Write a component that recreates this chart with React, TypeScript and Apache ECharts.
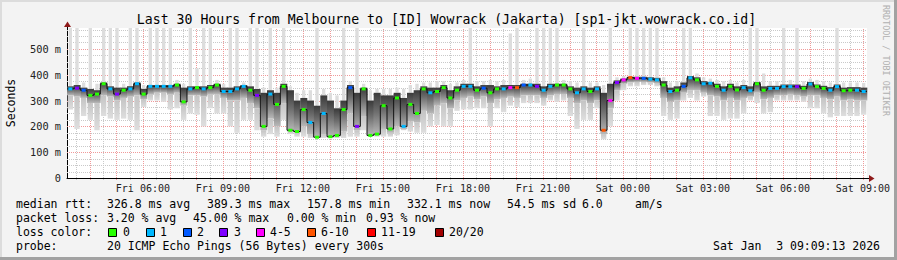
import React, { useEffect, useRef } from "react";
import * as echarts from "echarts";

const MONO = '"DejaVu Sans Mono", monospace';

// x axis: hours counted from Fri 00:00; window = last 30 hours ending Sat 09:09:13
const startHour = 3.1536;
const spanHours = 30;
const stepHours = 0.25; // one sample every 15 minutes

// median RTT (ms) per 15-minute step
const medianRtt = [
  345, 348, 340, 320, 325, 365, 345, 325, 340, 345, 365, 325, 355, 355, 355, 355, 360, 295, 345, 350, 345, 350, 360, 335,
  335, 345, 355, 340, 320, 200, 325, 285, 355, 185, 180, 265, 215, 158, 250, 160, 165, 265, 350, 200, 345, 165, 170, 280,
  190, 310, 200, 285, 250, 345, 330, 335, 350, 310, 340, 355, 355, 340, 348, 330, 345, 345, 350, 350, 360, 360, 355, 340,
  355, 360, 360, 345, 330, 345, 335, 345, 185, 300, 370, 380, 389, 386, 386, 383, 380, 360, 335, 340, 355, 388, 380, 365,
  367, 355, 340, 355, 341, 350, 338, 365, 340, 347, 347, 354, 354, 354, 347, 364, 354, 347, 340, 354, 338, 340, 340, 335,
];
// loss bucket index per step (0 = 0 lost, 1 = 1, 2 = 2, 3 = 3, 4 = 4-5, 5 = 6-10, 6 = 11-19, 7 = 20/20)
const lossBucket = [
  1, 3, 2, 0, 0, 0, 1, 3, 0, 1, 1, 0, 1, 1, 1, 1, 0, 0, 1, 0, 1, 0, 0, 1,
  1, 1, 1, 0, 3, 0, 1, 0, 0, 0, 0, 0, 1, 0, 1, 0, 0, 0, 2, 3, 0, 0, 0, 0,
  0, 0, 1, 0, 0, 0, 1, 0, 0, 0, 0, 1, 1, 0, 2, 0, 0, 1, 4, 5, 2, 1, 3, 1,
  1, 0, 0, 0, 1, 1, 0, 1, 5, 4, 3, 4, 5, 4, 2, 1, 1, 0, 1, 0, 2, 1, 0, 1,
  1, 0, 1, 0, 0, 1, 1, 0, 0, 1, 1, 1, 1, 3, 0, 1, 0, 0, 1, 1, 0, 0, 1, 1,
];
// smoke: lowest ping, dark core bottom, dark core top, highest ping (581 = beyond the top)
const smokeLow = [
  265, 190, 240, 225, 185, 240, 230, 225, 230, 225, 185, 275, 300, 300, 295, 265, 270, 225, 250, 245, 200, 270, 250, 250,
  200, 175, 225, 225, 185, 160, 170, 160, 225, 170, 160, 160, 155, 155, 155, 155, 155, 155, 160, 160, 185, 160, 160, 160,
  160, 165, 185, 180, 175, 175, 200, 205, 200, 200, 260, 265, 265, 270, 270, 200, 270, 255, 280, 275, 290, 290, 290, 280,
  300, 295, 300, 240, 190, 225, 225, 270, 150, 200, 300, 340, 355, 355, 360, 360, 355, 240, 225, 230, 300, 310, 300, 315,
  240, 240, 225, 230, 230, 250, 300, 290, 250, 255, 300, 300, 300, 300, 295, 270, 270, 250, 235, 240, 240, 240, 240, 245,
];
const coreLow = [
  320, 315, 310, 290, 290, 320, 315, 300, 310, 315, 320, 305, 325, 330, 330, 325, 330, 280, 320, 320, 315, 325, 325, 310,
  300, 300, 310, 290, 270, 185, 230, 200, 290, 180, 175, 200, 170, 158, 170, 158, 160, 180, 250, 185, 240, 163, 165, 190,
  175, 200, 190, 220, 215, 260, 250, 280, 290, 270, 300, 310, 315, 305, 315, 290, 305, 310, 315, 310, 320, 320, 320, 310,
  320, 325, 325, 310, 290, 300, 290, 300, 170, 270, 340, 365, 370, 372, 372, 370, 368, 310, 295, 300, 330, 340, 340, 330,
  320, 315, 300, 310, 300, 310, 315, 330, 305, 310, 320, 320, 325, 320, 315, 320, 320, 310, 305, 315, 300, 305, 300, 300,
];
const coreHigh = [
  355, 360, 350, 345, 340, 370, 355, 350, 350, 355, 370, 345, 360, 360, 360, 360, 365, 350, 355, 355, 355, 360, 365, 350,
  350, 355, 360, 355, 345, 330, 340, 330, 365, 340, 300, 310, 300, 280, 320, 300, 270, 300, 360, 330, 350, 300, 330, 320,
  320, 330, 310, 330, 340, 355, 350, 350, 360, 340, 355, 365, 365, 355, 360, 360, 355, 360, 360, 360, 365, 365, 365, 355,
  365, 365, 365, 355, 350, 355, 350, 355, 330, 365, 378, 385, 392, 392, 392, 390, 388, 375, 350, 355, 370, 395, 390, 375,
  372, 365, 355, 365, 355, 360, 355, 372, 355, 357, 357, 362, 362, 362, 357, 372, 362, 357, 352, 362, 350, 352, 352, 350,
];
const smokeHigh = [
  581, 581, 370, 581, 365, 581, 581, 581, 365, 581, 581, 360, 581, 581, 581, 581, 380, 365, 581, 425, 581, 581, 380, 365,
  581, 581, 370, 581, 581, 350, 581, 350, 581, 355, 330, 340, 340, 581, 345, 330, 320, 581, 375, 581, 365, 340, 345, 345,
  345, 350, 345, 360, 365, 370, 370, 375, 375, 365, 370, 380, 581, 375, 375, 380, 375, 380, 560, 581, 380, 385, 581, 581,
  581, 581, 380, 375, 370, 581, 370, 370, 360, 581, 390, 395, 581, 581, 581, 581, 581, 390, 370, 375, 581, 581, 405, 390,
  385, 380, 375, 380, 370, 380, 581, 581, 405, 375, 375, 581, 380, 581, 375, 385, 380, 375, 370, 581, 370, 370, 370, 368,
];

const lossColors = ["#26ff00", "#00b8ff", "#0059ff", "#7e00ff", "#ff00ff", "#ff5500", "#ff0000", "#a10000"];
const lossLabels = ["0", "1", "2", "3", "4-5", "6-10", "11-19", "20/20"];

const xTickHours = [6, 9, 12, 15, 18, 21, 24, 27, 30, 33];
const xTickLabels = ["Fri 06:00", "Fri 09:00", "Fri 12:00", "Fri 15:00", "Fri 18:00", "Fri 21:00", "Sat 00:00", "Sat 03:00", "Sat 06:00", "Sat 09:00"];
const yMax = 581;
const yTickValues = [0, 100, 200, 300, 400, 500];
const yTickLabels = ["0", "100 m", "200 m", "300 m", "400 m", "500 m"];
const yMinorLines = [25, 50, 75, 125, 150, 175, 225, 250, 275, 325, 350, 375, 425, 450, 475, 525, 550, 575];

const medianRttSummary = [326.8, 389.3, 157.8, 332.1]; // avg, max, min, now
const medianRttSd = 54.5;
const medianAmPerS = 6.0;
const packetLossSummary = [3.2, 45.0, 0.0, 0.93]; // avg, max, min, now

const titleText = "Last 30 Hours from Melbourne to [ID] Wowrack (Jakarta) [sp1-jkt.wowrack.co.id]";
const probeText = "20 ICMP Echo Pings (56 Bytes) every 300s";

export default function App() {
  const ref = useRef<HTMLDivElement>(null);

  useEffect(() => {
    if (!ref.current) return;
    const chart = echarts.init(ref.current, undefined, { renderer: "svg" });

    const xHourLines = Array.from({ length: 30 }, (_, k) => 4 + k);
    const xHalfLines = Array.from({ length: 30 }, (_, k) => 3.5 + k);

    const hLine = (color: string) => (_p: any, api: any) => {
      const v = api.value(1);
      const a = api.coord([startHour, v]);
      const b = api.coord([startHour + spanHours, v]);
      const y = Math.round(a[1]) + 0.5;
      return { type: "line", silent: true, shape: { x1: a[0], y1: y, x2: b[0], y2: y }, style: { stroke: color, lineWidth: 1, lineDash: [1, 1] } };
    };
    const vLine = (color: string) => (_p: any, api: any) => {
      const h = api.value(0);
      const a = api.coord([h, 0]);
      const b = api.coord([h, yMax]);
      const x = Math.round(a[0]) + 0.5;
      return { type: "line", silent: true, shape: { x1: x, y1: a[1] + 2, x2: x, y2: b[1] }, style: { stroke: color, lineWidth: 1, lineDash: [1, 1] } };
    };

    const smokeData = medianRtt.map((_, i) => [
      startHour + i * stepHours,
      startHour + (i + 1) * stepHours,
      smokeLow[i],
      coreLow[i],
      coreHigh[i],
      smokeHigh[i],
    ]);
    const coreFill = new echarts.graphic.LinearGradient(0, 0, 0, 1, [
      { offset: 0, color: "#3a3a3a" },
      { offset: 0.45, color: "#6e6e6e" },
      { offset: 1, color: "#b9b9b9" },
    ]);
    const lowFill = new echarts.graphic.LinearGradient(0, 0, 0, 1, [
      { offset: 0, color: "#c4c4c4" },
      { offset: 1, color: "#dedede" },
    ]);

    const medianLine = medianRtt.map((v, i) => [startHour + i * stepHours, v]);
    medianLine.push([startHour + medianRtt.length * stepHours, medianRtt[medianRtt.length - 1]]);

    const lossData = medianRtt.map((v, i) => [startHour + i * stepHours, startHour + (i + 1) * stepHours, v, lossBucket[i]]);

    const txt = (x: number, y: number, text: string, extra: any = {}) => ({
      type: "text",
      x,
      y,
      silent: true,
      style: {
        text,
        fill: "#000",
        fontFamily: MONO,
        fontSize: 11.5,
        align: "left",
        textAlign: "left",
        verticalAlign: "middle",
        textVerticalAlign: "middle",
        ...extra,
      },
    });

    const r1 = 204;
    const r2 = 218;
    const r3 = 232;
    const r4 = 246;
    const graphic: any[] = [
      { type: "rect", silent: true, shape: { x: 0, y: 0, width: 897, height: 2 }, style: { fill: "#dcdcdc" } },
      { type: "rect", silent: true, shape: { x: 0, y: 0, width: 2, height: 260 }, style: { fill: "#dcdcdc" } },
      { type: "rect", silent: true, shape: { x: 894, y: 0, width: 3, height: 260 }, style: { fill: "#a2a2a2" } },
      { type: "rect", silent: true, shape: { x: 0, y: 257, width: 897, height: 3 }, style: { fill: "#a2a2a2" } },
      txt(446.5, 19, titleText, { fontSize: 13.2, align: "center", textAlign: "center" }),
      { ...txt(11, 103, "Seconds", { align: "center", textAlign: "center" }), rotation: Math.PI / 2 },
      { ...txt(886, 5, "RRDTOOL / TOBI OETIKER", { fontFamily: MONO, fontSize: 8.4, fill: "#b0b0b0" }), rotation: -Math.PI / 2 },
      // axis extensions and arrows
      { type: "line", silent: true, shape: { x1: 867, y1: 178.5, x2: 870, y2: 178.5 }, style: { stroke: "#000", lineWidth: 1 } },
      { type: "polygon", silent: true, shape: { points: [[869, 175], [874.5, 178.5], [869, 182]] }, style: { fill: "#8e1a1a" } },
      { type: "line", silent: true, shape: { x1: 67.5, y1: 28, x2: 67.5, y2: 25 }, style: { stroke: "#000", lineWidth: 1 } },
      { type: "polygon", silent: true, shape: { points: [[64, 27], [67.5, 21.5], [71, 27]] }, style: { fill: "#8e1a1a" } },
      // legend rows
      txt(16, r1, "median rtt:"),
      txt(107, r1, `${medianRttSummary[0].toFixed(1)} ms avg`),
      txt(207, r1, `${medianRttSummary[1].toFixed(1)} ms max`),
      txt(307, r1, `${medianRttSummary[2].toFixed(1)} ms min`),
      txt(407, r1, `${medianRttSummary[3].toFixed(1)} ms now`),
      txt(507, r1, `${medianRttSd.toFixed(1)} ms sd`),
      txt(582, r1, `${medianAmPerS.toFixed(1)}`),
      txt(635, r1, "am/s"),
      txt(16, r2, "packet loss:"),
      txt(107, r2, `${packetLossSummary[0].toFixed(2)} % avg`),
      txt(193, r2, `${packetLossSummary[1].toFixed(2)} % max`),
      txt(287, r2, `${packetLossSummary[2].toFixed(2)} % min`),
      txt(366, r2, `${packetLossSummary[3].toFixed(2)} % now`),
      txt(16, r3, "loss color:"),
      txt(16, r4, "probe:"),
      txt(107, r4, probeText),
      txt(713, r4, "Sat Jan"),
      txt(880, r4, "3 09:09:13 2026", { align: "right", textAlign: "right" }),
    ];
    const boxX = [108, 146, 183, 219, 256, 307, 367, 435];
    const labX = [123, 160, 197, 234, 270, 321, 381, 449];
    lossLabels.forEach((lab, k) => {
      graphic.push({ type: "rect", silent: true, shape: { x: boxX[k] + 0.5, y: 228.5, width: 8, height: 8 }, style: { fill: lossColors[k], stroke: "#000", lineWidth: 1 } });
      graphic.push(txt(labX[k], r3, lab));
    });

    chart.setOption({
      animation: false,
      backgroundColor: "#f3f3f3",
      textStyle: { fontFamily: MONO },
      grid: { left: 67, top: 28, width: 800, height: 150, show: true, backgroundColor: "#ffffff", borderWidth: 0 },
      xAxis: {
        type: "value",
        min: startHour,
        max: startHour + spanHours,
        axisLine: { lineStyle: { color: "#000", width: 1 } },
        axisTick: { show: false },
        splitLine: { show: false },
        axisLabel: {
          customValues: xTickHours,
          formatter: (v: number) => {
            const k = xTickHours.findIndex((h) => Math.abs(h - v) < 0.01);
            return k >= 0 ? xTickLabels[k] : "";
          },
          fontFamily: MONO,
          fontSize: 10,
          color: "#222",
          margin: 5,
        },
      },
      yAxis: {
        type: "value",
        min: 0,
        max: yMax,
        interval: 100,
        axisLine: { show: true, lineStyle: { color: "#000", width: 1 } },
        axisTick: { show: false },
        splitLine: { show: false },
        axisLabel: {
          showMaxLabel: false,
          formatter: (v: number) => {
            const k = yTickValues.indexOf(Math.round(v));
            return k >= 0 && Math.abs(v - Math.round(v)) < 0.01 ? yTickLabels[k] : "";
          },
          fontFamily: MONO,
          fontSize: 10.3,
          color: "#222",
          margin: 6,
        },
      },
      series: [
        { type: "custom", z: 1, silent: true, encode: { x: 0, y: 1 }, data: yMinorLines.map((v) => [startHour, v]), renderItem: hLine("#c9c9c9") },
        { type: "custom", z: 1, silent: true, clip: false, encode: { x: 0, y: 1 }, data: xHalfLines.map((h) => [h, 0]), renderItem: vLine("#c9c9c9") },
        { type: "custom", z: 1, silent: true, encode: { x: 0, y: 1 }, data: yTickValues.slice(1).map((v) => [startHour, v]), renderItem: hLine("#f09a9a") },
        { type: "custom", z: 1, silent: true, clip: false, encode: { x: 0, y: 1 }, data: xHourLines.map((h) => [h, 0]), renderItem: vLine("#f09a9a") },
        {
          type: "custom",
          z: 2,
          silent: true,
          encode: { x: [0, 1], y: [2, 3, 4, 5] },
          data: smokeData,
          renderItem: (_p: any, api: any) => {
            const x0 = api.value(0);
            const x1 = api.value(1);
            const pLo = api.coord([x0, api.value(2)]);
            const pDlo = api.coord([x1, api.value(3)]);
            const pDhi = api.coord([x0, api.value(4)]);
            const pHi = api.coord([x1, api.value(5)]);
            const w = pHi[0] - pLo[0];
            return {
              type: "group",
              children: [
                { type: "rect", shape: { x: pLo[0] + w * 0.25, y: pHi[1], width: w * 0.5, height: pDhi[1] - pHi[1] }, style: { fill: "#dddddd" } },
                { type: "rect", shape: { x: pLo[0] + w * 0.1, y: pDlo[1], width: w * 0.8, height: pLo[1] - pDlo[1] }, style: { fill: lowFill } },
                { type: "rect", shape: { x: pLo[0], y: pDhi[1], width: w + 0.3, height: pDlo[1] - pDhi[1] }, style: { fill: coreFill } },
              ],
            };
          },
        },
        {
          type: "line",
          z: 3,
          silent: true,
          step: "end",
          symbol: "none",
          data: medianLine,
          lineStyle: { color: "#111", width: 1 },
        },
        {
          type: "custom",
          z: 4,
          silent: true,
          encode: { x: [0, 1], y: 2 },
          data: lossData,
          renderItem: (_p: any, api: any) => {
            const a = api.coord([api.value(0), api.value(2)]);
            const b = api.coord([api.value(1), api.value(2)]);
            const w = b[0] - a[0];
            return { type: "rect", shape: { x: a[0] + w * 0.2, y: a[1] - 1.5, width: w * 0.6, height: 3 }, style: { fill: lossColors[api.value(3)] } };
          },
        },
      ],
      graphic,
    });

    return () => chart.dispose();
  }, []);

  return <div ref={ref} style={{ position: "fixed", left: 0, top: 0, width: 897, height: 260 }} />;
}
